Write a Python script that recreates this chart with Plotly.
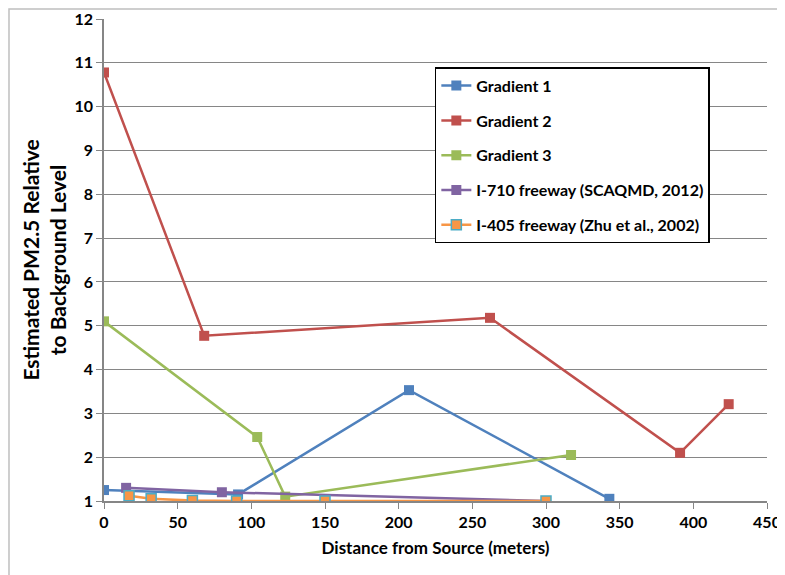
import plotly.graph_objects as go

g1_x = [0, 91, 207, 343]
g1_y = [1.25, 1.15, 3.53, 1.05]
g2_x = [0, 68, 262, 391, 424]
g2_y = [10.78, 4.77, 5.18, 2.1, 3.21]
g3_x = [0, 104, 123, 317]
g3_y = [5.1, 2.46, 1.1, 2.05]
i710_x = [15, 80, 300]
i710_y = [1.3, 1.2, 1.0]
i405_x = [17, 32, 60, 90, 150, 300]
i405_y = [1.12, 1.05, 1.01, 1.0, 1.0, 1.0]

names = ["Gradient 1", "Gradient 2", "Gradient 3",
         "I-710 freeway (SCAQMD, 2012)", "I-405 freeway (Zhu et al., 2002)"]

FONT = "Lato"

fig = go.Figure()
series = [
    (g1_x, g1_y, "#4F81BD", "#4F81BD", 0),
    (g2_x, g2_y, "#C0504D", "#C0504D", 0),
    (g3_x, g3_y, "#9BBB59", "#9BBB59", 0),
    (i710_x, i710_y, "#8064A2", "#8064A2", 0),
    (i405_x, i405_y, "#F79646", "#4BACC6", 1.5),
]
for i, (xs, ys, col, lcol, lw) in enumerate(series):
    fig.add_trace(go.Scatter(
        x=xs, y=ys, mode="lines+markers", name=names[i],
        legendgroup=f"g{i}",
        line=dict(color=col, width=2.5),
        marker=dict(symbol="square", size=10, color=col,
                    line=dict(color=lcol, width=lw)),
    ))

fig.update_layout(
    width=785, height=575,
    margin=dict(l=96, r=26, t=11, b=82, autoexpand=False),
    paper_bgcolor="white", plot_bgcolor="white",
    font=dict(family=FONT, size=16, color="black", weight=700),
    showlegend=True,
    legend=dict(
        x=0.499, y=0.9, xanchor="left", yanchor="top",
        bordercolor="black", borderwidth=1.5, bgcolor="white",
        font=dict(family=FONT, size=16, color="black", weight=700),
        tracegroupgap=11, itemwidth=30,
    ),
    xaxis=dict(
        range=[0, 450], dtick=50, tick0=0,
        showgrid=False, zeroline=False,
        showline=True, linecolor="#868686", linewidth=1.5,
        ticks="outside", ticklen=6, tickcolor="#868686",
        tickfont=dict(family=FONT, size=16, weight=700),
        title=dict(text="Distance from Source (meters)",
                   font=dict(family=FONT, size=17, weight=700), standoff=12),
    ),
    yaxis=dict(
        range=[1, 12], dtick=1, tick0=1,
        showgrid=True, gridcolor="#868686", gridwidth=1,
        zeroline=False,
        showline=True, linecolor="#868686", linewidth=1.5,
        ticks="outside", ticklen=6, tickcolor="#868686",
        tickfont=dict(family=FONT, size=16, weight=700),
        title=dict(text="Estimated PM2.5 Relative<br>to Background Level",
                   font=dict(family=FONT, size=21, weight=700), standoff=2),
    ),
    shapes=[dict(type="rect", xref="paper", yref="paper",
                 x0=-0.1433, x1=1.1, y0=-0.2, y1=1.0207,
                 line=dict(color="#BFBFBF", width=1.5), layer="below")],
)

fig.write_html("out.html")
